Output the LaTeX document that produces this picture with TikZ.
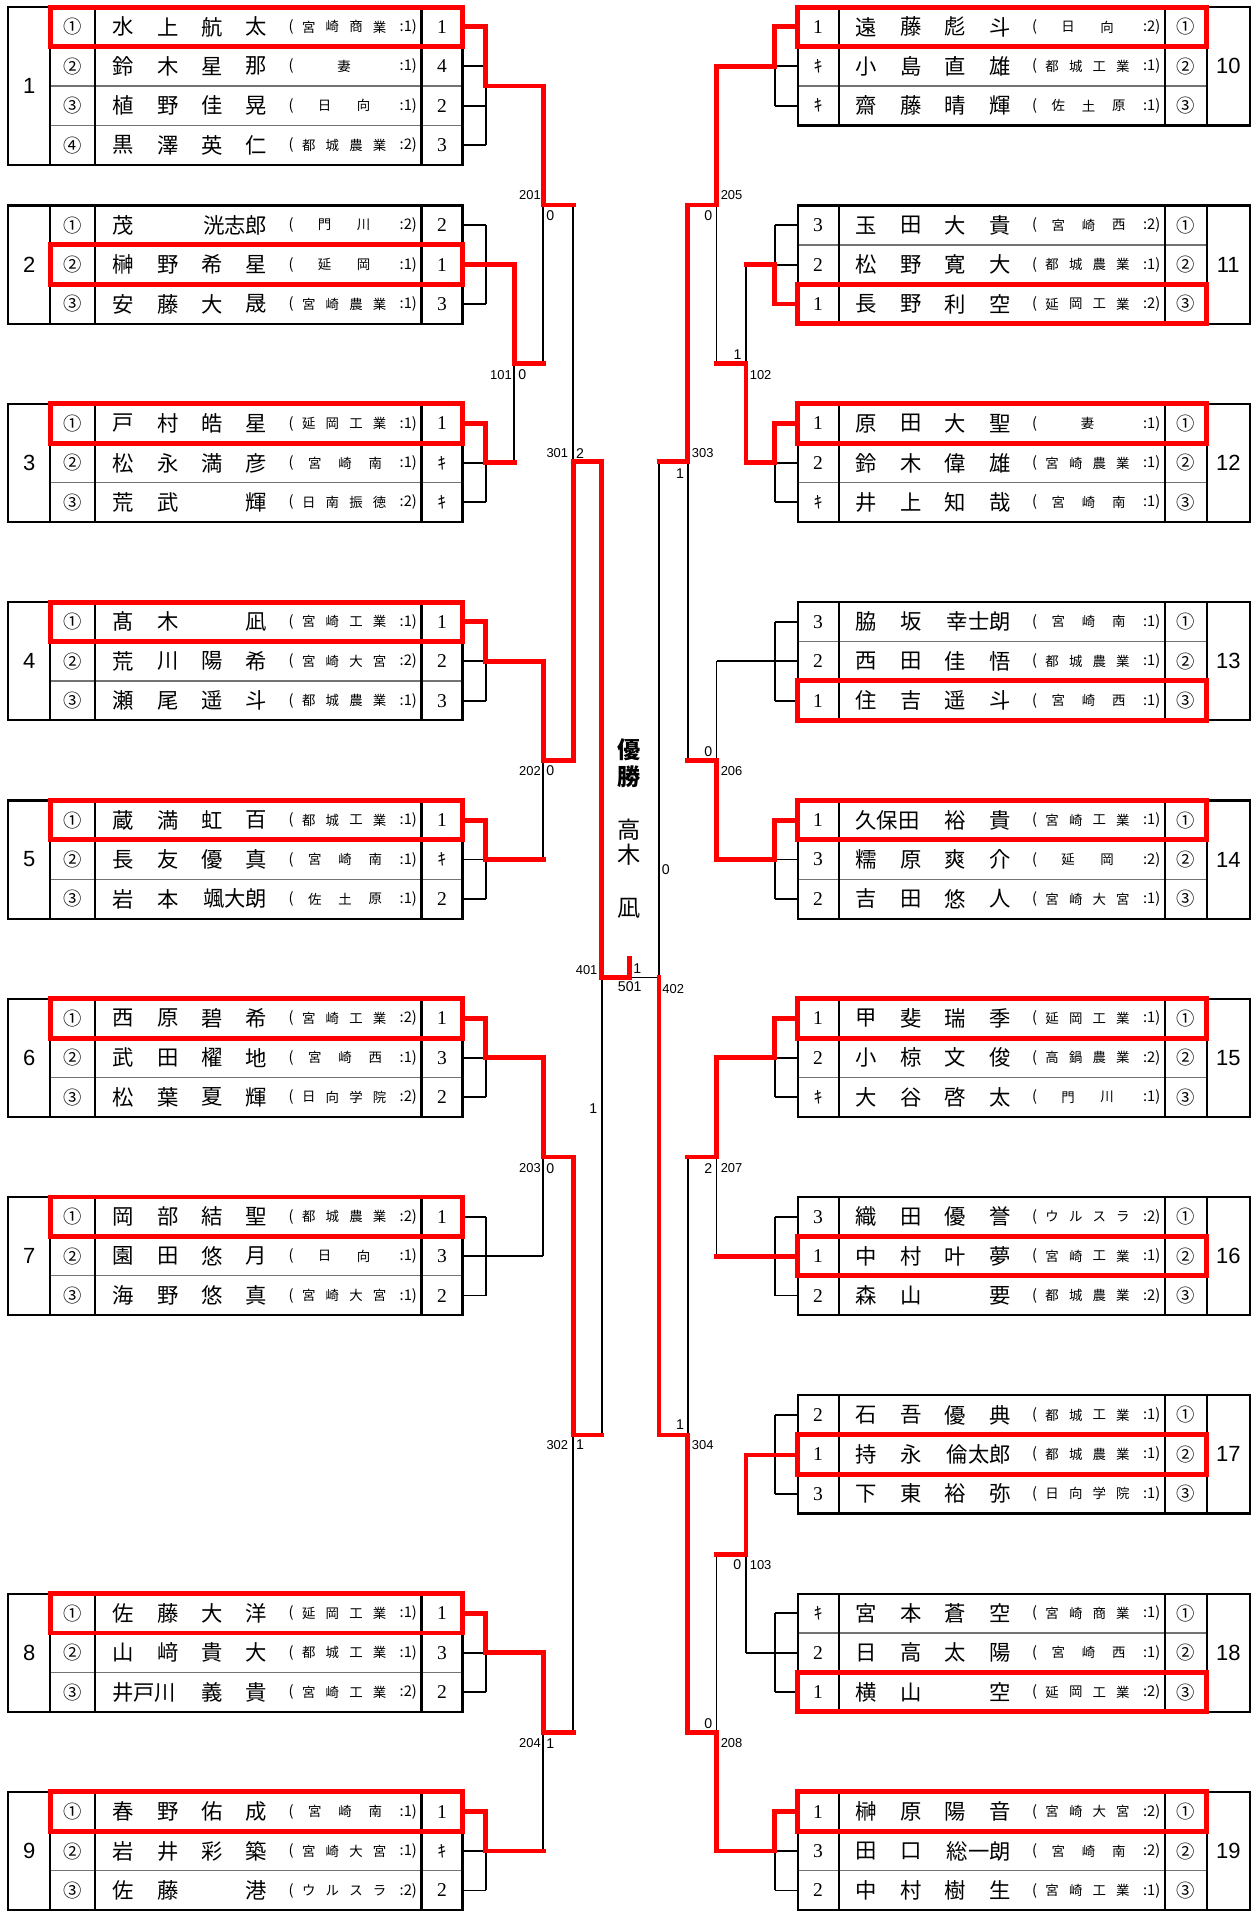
\documentclass[tikz,border=0pt]{standalone}
\usepackage{fontspec}
\setmainfont{Noto Sans CJK JP}
\newfontfamily\numfont{Liberation Sans}
\newfontfamily\serfont{Liberation Serif}
\newfontfamily\jpfont{Noto Sans CJK JP}

\newcount\nodecnt
\newcommand\NN{\global\advance\nodecnt by 1\relax}
\def\rh{32.3}
\newcommand\setT[1]{\pgfmathsetmacro\gT{5.9+162.5*#1}}
\newcommand\Ki{{\jpfont\fontsize{7}{8}\selectfont ｷ}}

\tikzset{
  frame/.style={line width=0.9pt, black},
  rowsep/.style={line width=0.5pt, black!55},
  br/.style={line width=0.75pt, black},
  win/.style={line width=2pt, red, line cap=rect, line join=miter},
  redbox/.style={line width=2pt, red},
  nmtext/.style={inner sep=0pt, font=\fontsize{8.75}{9}\selectfont},
  sch/.style={inner sep=0pt, font=\fontsize{5.5}{6}\selectfont},
  paren/.style={inner sep=0pt, font=\fontsize{6}{7}\selectfont},
  circ/.style={inner sep=0pt, font=\fontsize{7.5}{8}\selectfont},
  score/.style={inner sep=0pt, font=\serfont\fontsize{8}{9}\selectfont},
  gnum/.style={inner sep=0pt, font=\numfont\fontsize{9}{10}\selectfont},
  lab/.style={inner sep=0pt, font=\numfont\fontsize{5.3}{6}\selectfont},
  sc/.style={inner sep=0pt, font=\numfont\fontsize{5.8}{6}\selectfont},
  champ/.style={inner sep=0pt, font=\bfseries\fontsize{9.5}{10}\selectfont},
  champn/.style={inner sep=0pt, font=\fontsize{9.5}{10}\selectfont},
}

% name: slots 1,2 west-anchored, slots 3,4 east-anchored
\newcommand\nm[4]{%
  \NN\node[nmtext,anchor=west] (t\the\nodecnt) at (\cx+91.55,\cy) {#1};
  \NN\node[nmtext,anchor=west] (t\the\nodecnt) at (\cx+128.35,\cy) {#2};
  \NN\node[nmtext,anchor=east] (t\the\nodecnt) at (\cx+182.65,\cy) {#3};
  \NN\node[nmtext,anchor=east] (t\the\nodecnt) at (\cx+219.45,\cy) {#4};
}
\newcommand\sA[1]{\NN\node[sch] (t\the\nodecnt) at (\cx+282,\cy) {#1};}
\newcommand\sB[2]{%
  \NN\node[sch] (t\the\nodecnt) at (\cx+266,\cy) {#1};
  \NN\node[sch] (t\the\nodecnt) at (\cx+298,\cy) {#2};}
\newcommand\sC[3]{%
  \NN\node[sch] (t\the\nodecnt) at (\cx+258,\cy) {#1};
  \NN\node[sch] (t\the\nodecnt) at (\cx+282.8,\cy) {#2};
  \NN\node[sch] (t\the\nodecnt) at (\cx+307.6,\cy) {#3};}
\newcommand\sD[4]{%
  \NN\node[sch] (t\the\nodecnt) at (\cx+253,\cy) {#1};
  \NN\node[sch] (t\the\nodecnt) at (\cx+272.3,\cy) {#2};
  \NN\node[sch] (t\the\nodecnt) at (\cx+291.7,\cy) {#3};
  \NN\node[sch] (t\the\nodecnt) at (\cx+311,\cy) {#4};}

\newcommand\groupL[4]{%
  \setT{#1}%
  \pgfmathsetmacro\gB{\gT+#2*\rh}%
  \pgfmathsetmacro\gM{\gT+#2*\rh/2}%
  \pgfmathtruncatemacro\nr{#2-1}%
  \foreach \i in {1,...,\nr}{\draw[rowsep] (41.1,{\gT+\i*\rh}) -- (379,{\gT+\i*\rh});}
  \draw[frame] (6.6,\gT) rectangle (379,\gB);
  \draw[frame] (41.1,\gT) -- (41.1,\gB) (78,\gT) -- (78,\gB) (345.4,\gT) -- (345.4,\gB);
  \NN\node[gnum] (t\the\nodecnt) at (23.9,\gM) {#3};
  \foreach \i in {1,...,#2}{\draw[br] (379,{\gT+\rh*(\i-0.5)}) -- (398.2,{\gT+\rh*(\i-0.5)});}
  \draw[br] (398.2,{\gT+\rh*0.5}) -- (398.2,{\gT+\rh*(#2-0.5)});
  \draw[redbox] (41.1,{\gT+\rh*(#4-1)}) rectangle (379,{\gT+\rh*#4});
}
\newcommand\groupR[4]{%
  \setT{#1}%
  \pgfmathsetmacro\gB{\gT+#2*\rh}%
  \pgfmathsetmacro\gM{\gT+#2*\rh/2}%
  \pgfmathtruncatemacro\nr{#2-1}%
  \foreach \i in {1,...,\nr}{\draw[rowsep] (653.6,{\gT+\i*\rh}) -- (989,{\gT+\i*\rh});}
  \draw[frame] (653.6,\gT) rectangle (1024,\gB);
  \draw[frame] (687.2,\gT) -- (687.2,\gB) (954.6,\gT) -- (954.6,\gB) (989,\gT) -- (989,\gB);
  \NN\node[gnum] (t\the\nodecnt) at (1006.5,\gM) {#3};
  \foreach \i in {1,...,#2}{\draw[br] (653.6,{\gT+\rh*(\i-0.5)}) -- (635,{\gT+\rh*(\i-0.5)});}
  \draw[br] (635,{\gT+\rh*0.5}) -- (635,{\gT+\rh*(#2-0.5)});
  \draw[redbox] (653.6,{\gT+\rh*(#4-1)}) rectangle (989,{\gT+\rh*#4});
}
\newcommand\rowL[6]{%
  \pgfmathsetmacro\cy{\gT+\rh*(#1-0.5)}\def\cx{0}%
  \NN\node[circ] (t\the\nodecnt) at (59.6,\cy) {#2};
  #3#4%
  \NN\node[paren] (t\the\nodecnt) at (238.6,\cy) {(};
  \NN\node[paren,anchor=east] (t\the\nodecnt) at (342,\cy) {:#5)};
  \NN\node[score] (t\the\nodecnt) at (362.2,\cy) {#6};
}
\newcommand\rowR[6]{%
  \pgfmathsetmacro\cy{\gT+\rh*(#1-0.5)}\def\cx{609.2}%
  \NN\node[score] (t\the\nodecnt) at (670.4,\cy) {#6};
  #3#4%
  \NN\node[paren] (t\the\nodecnt) at (847.8,\cy) {(};
  \NN\node[paren,anchor=east] (t\the\nodecnt) at (951.2,\cy) {:#5)};
  \NN\node[circ] (t\the\nodecnt) at (971.8,\cy) {#2};
}

\begin{document}
\begin{tikzpicture}[x=0.5pt,y=-0.5pt]
\useasboundingbox (0,0) rectangle (1030,1566);

% ---------------- left groups
\groupL{0}{4}{1}{1}
\rowL{1}{①}{\nm 水上航太}{\sD 宮崎商業}{1}{1}
\rowL{2}{②}{\nm 鈴木星那}{\sA 妻}{1}{4}
\rowL{3}{③}{\nm 植野佳晃}{\sB 日向}{1}{2}
\rowL{4}{④}{\nm 黒澤英仁}{\sD 都城農業}{2}{3}
\groupL{1}{3}{2}{2}
\rowL{1}{①}{\nm{茂}{}{}{洸志郎}}{\sB 門川}{2}{2}
\rowL{2}{②}{\nm 榊野希星}{\sB 延岡}{1}{1}
\rowL{3}{③}{\nm 安藤大晟}{\sD 宮崎農業}{1}{3}
\groupL{2}{3}{3}{1}
\rowL{1}{①}{\nm 戸村皓星}{\sD 延岡工業}{1}{1}
\rowL{2}{②}{\nm 松永満彦}{\sC 宮崎南}{1}{\Ki}
\rowL{3}{③}{\nm{荒}{武}{}{輝}}{\sD 日南振徳}{2}{\Ki}
\groupL{3}{3}{4}{1}
\rowL{1}{①}{\nm{髙}{木}{}{凪}}{\sD 宮崎工業}{1}{1}
\rowL{2}{②}{\nm 荒川陽希}{\sD 宮崎大宮}{2}{2}
\rowL{3}{③}{\nm 瀬尾遥斗}{\sD 都城農業}{1}{3}
\groupL{4}{3}{5}{1}
\rowL{1}{①}{\nm 蔵満虹百}{\sD 都城工業}{1}{1}
\rowL{2}{②}{\nm 長友優真}{\sC 宮崎南}{1}{\Ki}
\rowL{3}{③}{\nm{岩}{本}{}{颯大朗}}{\sC 佐土原}{1}{2}
\groupL{5}{3}{6}{1}
\rowL{1}{①}{\nm 西原碧希}{\sD 宮崎工業}{2}{1}
\rowL{2}{②}{\nm 武田櫂地}{\sC 宮崎西}{1}{3}
\rowL{3}{③}{\nm 松葉夏輝}{\sD 日向学院}{2}{2}
\groupL{6}{3}{7}{1}
\rowL{1}{①}{\nm 岡部結聖}{\sD 都城農業}{2}{1}
\rowL{2}{②}{\nm 園田悠月}{\sB 日向}{1}{3}
\rowL{3}{③}{\nm 海野悠真}{\sD 宮崎大宮}{1}{2}
\groupL{8}{3}{8}{1}
\rowL{1}{①}{\nm 佐藤大洋}{\sD 延岡工業}{1}{1}
\rowL{2}{②}{\nm 山﨑貴大}{\sD 都城工業}{1}{3}
\rowL{3}{③}{\nm{井戸川}{}{義}{貴}}{\sD 宮崎工業}{2}{2}
\groupL{9}{3}{9}{1}
\rowL{1}{①}{\nm 春野佑成}{\sC 宮崎南}{1}{1}
\rowL{2}{②}{\nm 岩井彩築}{\sD 宮崎大宮}{1}{\Ki}
\rowL{3}{③}{\nm{佐}{藤}{}{港}}{\sD ウルスラ}{2}{2}

% ---------------- right groups
\groupR{0}{3}{10}{1}
\rowR{1}{①}{\nm 遠藤彪斗}{\sB 日向}{2}{1}
\rowR{2}{②}{\nm 小島直雄}{\sD 都城工業}{1}{\Ki}
\rowR{3}{③}{\nm 齋藤晴輝}{\sC 佐土原}{1}{\Ki}
\groupR{1}{3}{11}{3}
\rowR{1}{①}{\nm 玉田大貴}{\sC 宮崎西}{2}{3}
\rowR{2}{②}{\nm 松野寛大}{\sD 都城農業}{1}{2}
\rowR{3}{③}{\nm 長野利空}{\sD 延岡工業}{2}{1}
\groupR{2}{3}{12}{1}
\rowR{1}{①}{\nm 原田大聖}{\sA 妻}{1}{1}
\rowR{2}{②}{\nm 鈴木偉雄}{\sD 宮崎農業}{1}{2}
\rowR{3}{③}{\nm 井上知哉}{\sC 宮崎南}{1}{\Ki}
\groupR{3}{3}{13}{3}
\rowR{1}{①}{\nm{脇}{坂}{}{幸士朗}}{\sC 宮崎南}{1}{3}
\rowR{2}{②}{\nm 西田佳悟}{\sD 都城農業}{1}{2}
\rowR{3}{③}{\nm 住吉遥斗}{\sC 宮崎西}{1}{1}
\groupR{4}{3}{14}{1}
\rowR{1}{①}{\nm{久保田}{}{裕}{貴}}{\sD 宮崎工業}{1}{1}
\rowR{2}{②}{\nm 糯原爽介}{\sB 延岡}{2}{3}
\rowR{3}{③}{\nm 吉田悠人}{\sD 宮崎大宮}{1}{2}
\groupR{5}{3}{15}{1}
\rowR{1}{①}{\nm 甲斐瑞季}{\sD 延岡工業}{1}{1}
\rowR{2}{②}{\nm 小椋文俊}{\sD 高鍋農業}{2}{2}
\rowR{3}{③}{\nm 大谷啓太}{\sB 門川}{1}{\Ki}
\groupR{6}{3}{16}{2}
\rowR{1}{①}{\nm 織田優誉}{\sD ウルスラ}{2}{3}
\rowR{2}{②}{\nm 中村叶夢}{\sD 宮崎工業}{1}{1}
\rowR{3}{③}{\nm{森}{山}{}{要}}{\sD 都城農業}{2}{2}
\groupR{7}{3}{17}{2}
\rowR{1}{①}{\nm 石吾優典}{\sD 都城工業}{1}{2}
\rowR{2}{②}{\nm{持}{永}{}{倫太郎}}{\sD 都城農業}{1}{1}
\rowR{3}{③}{\nm 下東裕弥}{\sD 日向学院}{1}{3}
\groupR{8}{3}{18}{3}
\rowR{1}{①}{\nm 宮本蒼空}{\sD 宮崎商業}{1}{\Ki}
\rowR{2}{②}{\nm 日高太陽}{\sC 宮崎西}{1}{2}
\rowR{3}{③}{\nm{横}{山}{}{空}}{\sD 延岡工業}{2}{1}
\groupR{9}{3}{19}{1}
\rowR{1}{①}{\nm 榊原陽音}{\sD 宮崎大宮}{2}{1}
\rowR{2}{②}{\nm{田}{口}{}{総一朗}}{\sC 宮崎南}{2}{3}
\rowR{3}{③}{\nm 中村樹生}{\sD 宮崎工業}{1}{2}

% ---------------- match points
\coordinate (m201) at (445.2,168);
\coordinate (m101) at (421.4,298.1);
\coordinate (m301) at (469.8,378.5);
\coordinate (m202) at (445.2,623.1);
\coordinate (m401) at (493,801);
\coordinate (m203) at (445.2,948.1);
\coordinate (m302) at (469.8,1175.9);
\coordinate (m204) at (445.2,1419.7);
\coordinate (m501) at (516.2,801);
\coordinate (m205) at (587.2,168);
\coordinate (m102) at (611.3,298.1);
\coordinate (m303) at (563.5,378.5);
\coordinate (m206) at (587.2,623.1);
\coordinate (m402) at (540,801);
\coordinate (m207) at (587.2,948.1);
\coordinate (m304) at (563.5,1175.9);
\coordinate (m103) at (611.3,1273.6);
\coordinate (m208) at (587.2,1419.7);
% group outputs
\coordinate (g1) at (398.2,70.5);
\coordinate (g2) at (398.2,216.85);
\coordinate (g3) at (398.2,379.35);
\coordinate (g4) at (398.2,541.85);
\coordinate (g5) at (398.2,704.35);
\coordinate (g6) at (398.2,866.85);
\coordinate (g7) at (398.2,1029.35);
\coordinate (g8) at (398.2,1354.35);
\coordinate (g9) at (398.2,1516.85);
\coordinate (g10) at (635,54.35);
\coordinate (g11) at (635,216.85);
\coordinate (g12) at (635,379.35);
\coordinate (g13) at (635,541.85);
\coordinate (g14) at (635,704.35);
\coordinate (g15) at (635,866.85);
\coordinate (g16) at (635,1029.35);
\coordinate (g17) at (635,1192.35);
\coordinate (g18) at (635,1354.35);
\coordinate (g19) at (635,1516.85);
% winners (box edge)
\coordinate (w1) at (379,22.05);
\coordinate (w2) at (379,216.85);
\coordinate (w3) at (379,347.05);
\coordinate (w4) at (379,509.55);
\coordinate (w5) at (379,672.05);
\coordinate (w6) at (379,834.55);
\coordinate (w8) at (379,1322.05);
\coordinate (w9) at (379,1484.55);
\coordinate (w10) at (653.6,22.05);
\coordinate (w11) at (653.6,249.15);
\coordinate (w12) at (653.6,347.05);
\coordinate (w14) at (653.6,672.05);
\coordinate (w15) at (653.6,834.55);
\coordinate (w16) at (653.6,1029.35);
\coordinate (w17) at (653.6,1192.35);
\coordinate (w19) at (653.6,1484.55);

% ---------------- black bracket lines
\draw[br] (g1 -| m201) -- (m101 -| m201);
\draw[br] (g2 -| m101) -- (g3 -| m101);
\draw[br] (m201 -| m301) -- (m202 -| m301);
\draw[br] (g4 -| m202) -- (g5 -| m202);
\draw[br] (m301 -| m401) -- (m302 -| m401);
\draw[br] (g6 -| m203) -- (g7 -| m203);
\draw[br] (g7) -- (g7 -| m203);
\draw[br] (m203 -| m302) -- (m204 -| m302);
\draw[br] (g8 -| m204) -- (g9 -| m204);
\draw[br] (m501) -- (m402);
\draw[br] (g10 -| m205) -- (m102 -| m205);
\draw[br] (g11 -| m102) -- (g12 -| m102);
\draw[br] (m205 -| m303) -- (m206 -| m303);
\draw[br] (g13 -| m206) -- (g14 -| m206);
\draw[br] (g13) -- (g13 -| m206);
\draw[br] (m303 -| m402) -- (m304 -| m402);
\draw[br] (g15 -| m207) -- (g16 -| m207);
\draw[br] (m207 -| m304) -- (m208 -| m304);
\draw[br] (g17 -| m103) -- (g18 -| m103);
\draw[br] (g18) -- (g18 -| m103);
\draw[br] (m103 -| m208) -- (g19 -| m208);

% ---------------- red winner lines
\draw[win] (w1) -| (g1) -| (m201) -- (m201 -| m301);
\draw[win] (w2) -| (m101) -- (m101 -| m201);
\draw[win] (w3) -| (g3) -- (g3 -| m101);
\draw[win] (w4) -| (g4) -| (m202) -| (m301) -| (m401) -- (m501) -- ++(0,-15.7);
\draw[win] (w5) -| (g5) -- (g5 -| m202);
\draw[win] (w6) -| (g6) -| (m203) -| (m302) -- (m302 -| m401);
\draw[win] (w8) -| (g8) -| (m204) -- (m204 -| m302);
\draw[win] (w9) -| (g9) -- (g9 -| m204);
\draw[win] (w10) -| (g10) -| (m205) -| (m303) -- (m303 -| m402);
\draw[win] (w11) -| (g11) -- (g11 -| m102);
\draw[win] (w12) -| (g12) -| (m102) -- (m102 -| m205);
\draw[win] (w14) -| (g14) -| (m206) -- (m206 -| m303);
\draw[win] (w15) -| (g15) -| (m207) -- (m207 -| m304);
\draw[win] (w16) -- (w16 -| m207);
\draw[win] (w17) -| (m103) -- (m103 -| m208);
\draw[win] (w19) -| (g19) -| (m208) -| (m304) -| (m402);

% ---------------- match labels and scores
\node[lab] (l201) at (434.3,159.8) {201}; \node[sc] (s201) at (451,177) {0};
\node[lab] (l101) at (410.5,307) {101};   \node[sc] (s101) at (428,307) {0};
\node[lab] (l301) at (456.7,371.5) {301}; \node[sc] (s301) at (475.3,371.5) {2};
\node[lab] (l202) at (434.3,631.8) {202}; \node[sc] (s202) at (451,631.8) {0};
\node[lab] (l401) at (480.7,794.8) {401}; \node[sc] (s401) at (486.2,908.2) {1};
\node[lab] (l203) at (434.3,957.3) {203}; \node[sc] (s203) at (451,957.3) {0};
\node[lab] (l302) at (456.7,1184) {302};  \node[sc] (s302) at (475.3,1184) {1};
\node[lab] (l204) at (434.3,1428.5) {204};\node[sc] (s204) at (451,1428.5) {1};
\node[sc] (s501a) at (522.2,793.5) {1};
\node[lab,font=\numfont\fontsize{5.8}{6}\selectfont] (l501) at (516,808.5) {501};
\node[sc] (s501b) at (545.7,712.9) {0};
\node[lab] (l205) at (599.5,159.8) {205}; \node[sc] (s205) at (580.4,177) {0};
\node[lab] (l102) at (623.3,307.3) {102}; \node[sc] (s102) at (604.4,290.3) {1};
\node[lab] (l303) at (575.8,371.5) {303}; \node[sc] (s303) at (557.2,387.8) {1};
\node[lab] (l206) at (599.5,631.8) {206}; \node[sc] (s206) at (580.4,615.9) {0};
\node[lab] (l402) at (551.7,810.6) {402};
\node[lab] (l207) at (599.5,957.3) {207}; \node[sc] (s207) at (580.4,957.3) {2};
\node[lab] (l304) at (575.8,1184) {304};  \node[sc] (s304) at (557.2,1167.7) {1};
\node[lab] (l103) at (623.3,1282.4) {103};\node[sc] (s103) at (604.2,1282.4) {0};
\node[lab] (l208) at (599.5,1428.5) {208};\node[sc] (s208) at (580.4,1412.1) {0};

% ---------------- champion
\node[champ] (c1) at (515.7,614.6) {優};
\node[champ] (c2) at (515.7,636.4) {勝};
\node[champn] (c3) at (515.7,680) {高};
\node[champn] (c4) at (515.7,700.6) {木};
\node[champn] (c5) at (515.7,744) {凪};
\end{tikzpicture}
\end{document}
